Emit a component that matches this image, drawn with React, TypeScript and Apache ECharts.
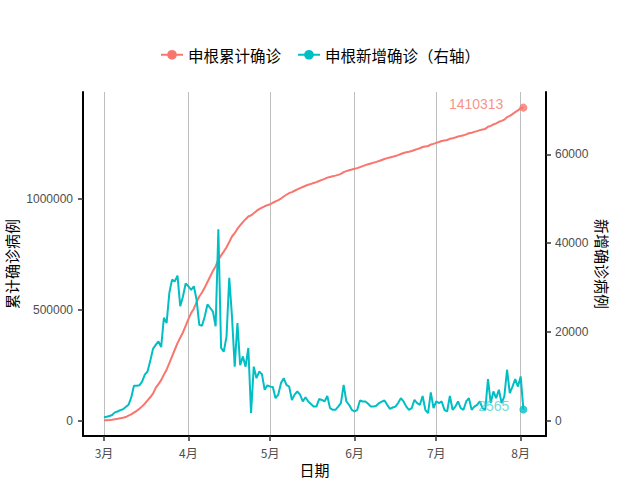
import React, { useEffect, useRef } from 'react';
import * as echarts from 'echarts';

// Day 0 = 3月1日, one value per day up to 8月2日
const monthTicks = [0, 31, 61, 92, 122, 153];
const monthLabels = ['3月', '4月', '5月', '6月', '7月', '8月'];
const leftTicks = [0, 500000, 1000000];
const rightTicks = [0, 20000, 40000, 60000];

const cumulativeName = '申根累计确诊';
const dailyName = '申根新增确诊（右轴）';

const cumulative = [
  2000, 2800, 3900, 5200, 7000, 9000, 11500, 14000, 17000, 23000,
  29000, 37000, 45000, 54000, 65000, 77000, 92000, 106000, 122000, 148000,
  165000, 183000, 208000, 230000, 260000, 290000, 320000, 350000, 374000, 398000,
  428000, 458000, 485000, 505000, 535000, 560000, 578000, 600000, 625000, 650000,
  675000, 696000, 725000, 745000, 762000, 782000, 805000, 830000, 845000, 865000,
  880000, 895000, 908000, 920000, 925000, 935000, 945000, 953000, 960000, 966000,
  971000, 975000, 982000, 988000, 994000, 1001000, 1010000, 1018000, 1025000, 1030000,
  1036000, 1042000, 1048000, 1053000, 1058500, 1063000, 1067000, 1071000, 1075000, 1080000,
  1085000, 1089500, 1095000, 1098000, 1101000, 1104000, 1107500, 1112000, 1120000, 1124500,
  1128500, 1131500, 1135000, 1138000, 1142500, 1147000, 1151500, 1155500, 1159000, 1162500,
  1166000, 1170000, 1174500, 1179000, 1183000, 1186000, 1189000, 1192500, 1196500, 1201500,
  1206000, 1209500, 1212000, 1215000, 1219500, 1223500, 1227500, 1233000, 1235500, 1237500,
  1244000, 1247000, 1251500, 1255500, 1260000, 1262500, 1264500, 1270000, 1272500, 1276000,
  1280000, 1283000, 1285500, 1290000, 1295000, 1297500, 1301000, 1304500, 1309000, 1312000,
  1314500, 1324000, 1328000, 1334500, 1339500, 1346500, 1350500, 1356000, 1367500, 1373500,
  1381000, 1390500, 1398000, 1407700, 1410313,
];

const daily = [
  800, 900, 1100, 1300, 1900, 2100, 2400, 2600, 3100, 3600,
  5200, 7900, 7900, 8000, 8800, 10400, 11100, 13500, 16200, 17100,
  17900, 16600, 23200, 22000, 28800, 31800, 31400, 32700, 25800, 28000,
  30900, 30300, 29500, 30300, 27300, 21600, 21400, 23500, 26200, 25400,
  24600, 21300, 43100, 16400, 15600, 19000, 32200, 23500, 12200, 22000,
  12500, 14500, 12200, 16400, 1740, 12200, 9600, 11100, 10500, 7000,
  8000, 7700, 7600, 5100, 5900, 8500, 9600, 8100, 7700, 4700,
  5900, 6600, 5900, 4350, 5300, 4350, 3800, 3200, 3200, 4900,
  4700, 4350, 5600, 2860, 2480, 2480, 3200, 4000, 8100, 4350,
  3600, 2480, 2100, 2480, 4580, 4350, 4350, 3830, 3200, 3200,
  3400, 4000, 4300, 4580, 3600, 2700, 3000, 3200, 4000, 5100,
  4350, 3200, 2480, 2860, 4700, 4000, 3600, 5600, 2480, 1740,
  6400, 2860, 4350, 4000, 4350, 2480, 2100, 5600, 2480, 3200,
  4350, 2860, 2480, 4350, 5100, 2480, 3200, 3600, 4350, 2860,
  2480, 9400, 4000, 6600, 5100, 7000, 4000, 5500, 11500, 6250,
  7700, 9400, 7700, 10000, 2565,
];

const RED = '#F8766D';
const TEAL = '#00BFC4';
const FONT = '"Liberation Sans", Arial, "Noto Sans CJK SC", sans-serif';
const CJK = '"Noto Sans CJK SC", "Liberation Sans", sans-serif';

export default function App() {
  const ref = useRef<HTMLDivElement>(null);
  useEffect(() => {
    if (!ref.current) return;
    const chart = echarts.init(ref.current, undefined, { renderer: 'svg' });
    const last = cumulative.length - 1;
    const cumData = cumulative.map((v, i) => [i, v]);
    const dayData = daily.map((v, i) => [i, v]);
    const axisLineStyle = { color: '#000', width: 2 };
    chart.setOption({
      animation: false,
      backgroundColor: '#fff',
      textStyle: { fontFamily: FONT },
      grid: { left: 83, right: 94, top: 92, bottom: 44, containLabel: false, outerBoundsMode: 'none' },
      legend: {
        top: 42,
        left: 155,
        itemGap: 16,
        itemWidth: 22,
        itemHeight: 12,
        data: [cumulativeName, dailyName],
        textStyle: { fontSize: 15.5, color: '#000', fontFamily: CJK },
      },
      xAxis: {
        type: 'value',
        min: -7.7,
        max: 162.3,
        name: '日期',
        nameLocation: 'middle',
        nameGap: 26,
        nameMoveOverlap: false,
        nameTextStyle: { fontSize: 15, color: '#000', fontFamily: CJK },
        axisLine: { show: true, onZero: false, lineStyle: axisLineStyle },
        axisTick: { show: true, length: 5, customValues: monthTicks, lineStyle: { color: '#333', width: 1.5 } },
        axisLabel: {
          customValues: monthTicks,
          margin: 10,
          fontSize: 12,
          color: '#4D4D4D',
          fontFamily: CJK,
          formatter: (v: number) => monthLabels[monthTicks.indexOf(v)] ?? '',
        },
        splitLine: { show: true, lineStyle: { color: '#BEBEBE', width: 1 } },
      },
      yAxis: [
        {
          type: 'value',
          position: 'left',
          min: -68400,
          max: 1480700,
          name: '累计确诊病例',
          nameLocation: 'middle',
          nameGap: 64,
          nameMoveOverlap: false,
          nameTextStyle: { fontSize: 15, color: '#000', fontFamily: CJK },
          axisLine: { show: true, onZero: false, lineStyle: axisLineStyle },
          axisTick: { show: true, length: 5, customValues: leftTicks, lineStyle: { color: '#333', width: 1.5 } },
          axisLabel: { customValues: leftTicks, margin: 10, fontSize: 12, color: '#4D4D4D', formatter: (v: number) => String(v) },
          splitLine: { show: false },
        },
        {
          type: 'value',
          position: 'right',
          min: -3420,
          max: 74035,
          name: '新增确诊病例',
          nameLocation: 'middle',
          nameGap: 49,
          nameRotate: -90,
          nameMoveOverlap: false,
          nameTextStyle: { fontSize: 15, color: '#000', fontFamily: CJK },
          axisLine: { show: true, onZero: false, lineStyle: axisLineStyle },
          axisTick: { show: true, length: 5, customValues: rightTicks, lineStyle: { color: '#333', width: 1.5 } },
          axisLabel: { customValues: rightTicks, margin: 9, fontSize: 12, color: '#4D4D4D', formatter: (v: number) => String(v) },
          splitLine: { show: false },
        },
      ],
      series: [
        {
          name: cumulativeName,
          type: 'line',
          yAxisIndex: 0,
          data: cumData,
          symbol: 'circle',
          symbolSize: 7,
          showSymbol: false,
          lineStyle: { color: RED, width: 2 },
          itemStyle: { color: RED },
          z: 3,
        },
        {
          name: dailyName,
          type: 'line',
          yAxisIndex: 1,
          data: dayData,
          symbol: 'circle',
          symbolSize: 7,
          showSymbol: false,
          lineStyle: { color: TEAL, width: 2 },
          itemStyle: { color: TEAL },
          z: 3,
        },
        {
          type: 'scatter',
          yAxisIndex: 0,
          data: [cumData[last]],
          symbolSize: 8,
          itemStyle: { color: RED },
          silent: true,
          z: 4,
          label: {
            show: true,
            position: 'left',
            distance: 16,
            offset: [0, -4],
            fontSize: 14,
            color: RED,
            formatter: (p: any) => String(p.value[1]),
          },
        },
        {
          type: 'scatter',
          yAxisIndex: 1,
          data: [dayData[last]],
          symbolSize: 8,
          itemStyle: { color: TEAL },
          silent: true,
          z: 4,
          label: {
            show: true,
            position: 'left',
            distance: 10,
            offset: [0, -3],
            fontSize: 14,
            color: '#4FCFD3',
            formatter: (p: any) => String(p.value[1]),
          },
        },
      ],
    });
    return () => chart.dispose();
  }, []);
  return <div ref={ref} style={{ width: 640, height: 480, position: 'absolute', left: 0, top: 0 }} />;
}
